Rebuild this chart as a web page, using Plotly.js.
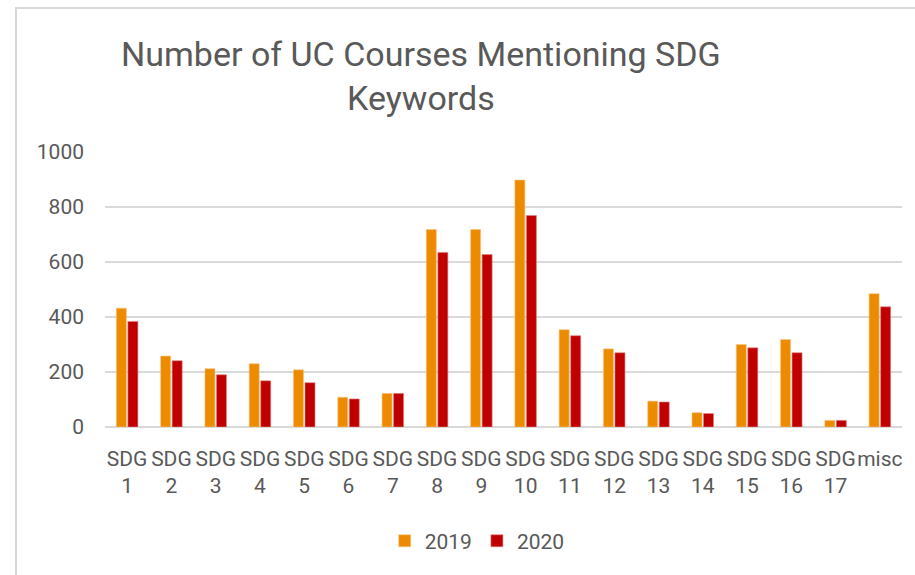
<!DOCTYPE html>
<html>
<head>
<meta charset="utf-8">
<script src="https://cdn.plot.ly/plotly-3.0.1.min.js"></script>
<style>
html,body{margin:0;padding:0;background:#fff;}
#wrap{position:relative;width:915px;height:575px;}
#frame{position:absolute;left:15px;top:7px;width:905px;height:580px;border-left:2px solid #d9d9d9;border-top:2px solid #d9d9d9;pointer-events:none;}
#chart{position:absolute;left:0;top:0;width:915px;height:575px;}
</style>
</head>
<body>
<div id="wrap">
<div id="chart"></div>
<div id="frame"></div>
</div>
<script>
const categories = ["SDG<br>1","SDG<br>2","SDG<br>3","SDG<br>4","SDG<br>5","SDG<br>6","SDG<br>7","SDG<br>8","SDG<br>9","SDG<br>10","SDG<br>11","SDG<br>12","SDG<br>13","SDG<br>14","SDG<br>15","SDG<br>16","SDG<br>17","misc"];
const values2019 = [432, 258, 212, 230, 208, 108, 122, 718, 718, 898, 354, 284, 94, 52, 300, 318, 24, 485];
const values2020 = [384, 241, 190, 168, 161, 102, 122, 635, 627, 769, 332, 270, 91, 49, 288, 270, 24, 437];
const seriesNames = ["2019", "2020"];
const yTicks = [0, 200, 400, 600, 800, 1000];

const FONT = "Roboto, 'Open Sans', sans-serif";
const GREY = "#595959";

const traces = [
  {type:"bar", name:seriesNames[0], x:categories, y:values2019,
   marker:{color:"#ED8B00", line:{color:"#f6c57f", width:0.6}}, hoverinfo:"skip"},
  {type:"bar", name:seriesNames[1], x:categories, y:values2020,
   marker:{color:"#C00000", line:{color:"#e07f7f", width:0.6}}, hoverinfo:"skip"}
];

const layout = {
  width:915, height:575,
  paper_bgcolor:"rgba(0,0,0,0)", plot_bgcolor:"rgba(0,0,0,0)",
  margin:{l:105, r:13, t:152, b:148},
  font:{family:FONT, color:GREY, size:21},
  title:{text:"Number of UC Courses Mentioning SDG<br>Keywords",
         font:{family:FONT, size:34, color:GREY},
         xref:"container", x:0.46, xanchor:"center",
         yref:"container", y:0.886, yanchor:"top"},
  barmode:"group", bargap:0.48, bargroupgap:0.13,
  xaxis:{type:"category", tickangle:0, showgrid:false, showline:false, zeroline:false,
         ticks:"", ticklabelstandoff:17, tickfont:{family:FONT, size:21, color:GREY}},
  yaxis:{range:[0,1000], tickvals:yTicks, showgrid:true, gridcolor:"#d9d9d9", gridwidth:1.5,
         zeroline:true, zerolinecolor:"#d9d9d9", zerolinewidth:2, showline:false, ticks:"",
         ticklabelstandoff:20, tickfont:{family:FONT, size:21, color:GREY}},
  showlegend:true,
  legend:{orientation:"h", x:0.467, xanchor:"center", y:-0.415, yanchor:"middle",
          font:{family:FONT, size:21, color:GREY}, itemwidth:30, traceorder:"normal"}
};

Plotly.newPlot("chart", traces, layout, {staticPlot:true, displayModeBar:false});
</script>
</body>
</html>
